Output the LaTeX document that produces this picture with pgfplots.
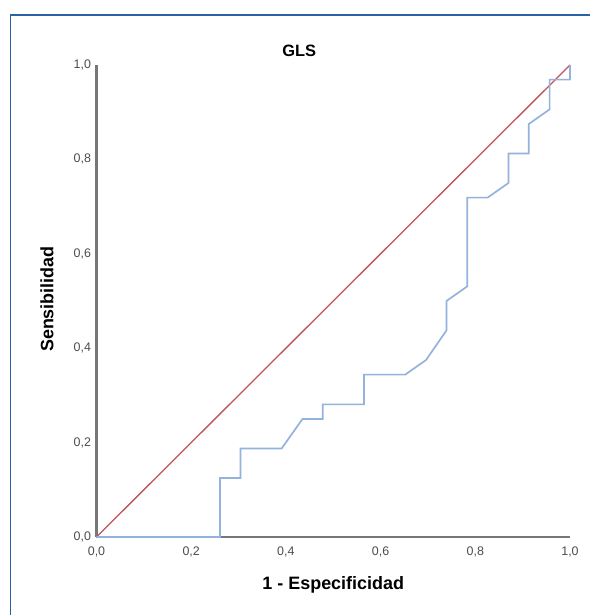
\documentclass[border=0pt]{standalone}
\usepackage{pgfplots}
\pgfplotsset{compat=1.18}
\usepackage{fontspec}
\setmainfont{Liberation Sans}
\definecolor{framecol}{HTML}{2A62A6}
\definecolor{roc}{HTML}{93B3DC}
\definecolor{diag}{HTML}{C4505C}
\definecolor{axcol}{HTML}{777777}
\definecolor{tickcol}{HTML}{4C4C4C}
\begin{document}
\begin{tikzpicture}
\begin{axis}[
  at={(96.5bp,78bp)}, anchor=south west,
  scale only axis, width=473.5bp, height=472bp,
  xmin=0, xmax=1, ymin=0, ymax=1,
  clip=false,
  axis lines=left,
  axis line style={axcol, line width=2bp, -},
  xtick={0,0.2,0.4,0.6,0.8,1},
  ytick={0,0.2,0.4,0.6,0.8,1},
  major tick length=0pt,
  /pgf/number format/.cd, fixed, fixed zerofill, precision=1, use comma, assume math mode=true,
  /pgfplots/.cd,
  ticklabel style={font=\fontsize{12.5}{12.5}\selectfont, text=tickcol},
  xticklabel style={yshift=-6bp},
  yticklabel style={xshift=-2bp},
  title={GLS},
  title style={at={(axis description cs:0.428,1.017)}, anchor=center, font=\bfseries\fontsize{16.5}{16.5}\selectfont},
  xlabel={1 - Especificidad},
  ylabel={Sensibilidad},
  xlabel style={at={(axis description cs:0.5,-0.102)}, anchor=center, font=\bfseries\fontsize{18}{18}\selectfont},
  ylabel style={at={(axis description cs:-0.1045,0.504)}, anchor=center, font=\bfseries\fontsize{18}{18}\selectfont},
]
\addplot[diag, line width=1.3bp] coordinates {(0,0) (1,1)};
\addplot[roc, line width=1.7bp] coordinates {
(0,0) (0.261,0) (0.261,0.125) (0.304,0.125) (0.304,0.1875) (0.391,0.1875)
(0.435,0.25) (0.478,0.25) (0.478,0.281) (0.565,0.281) (0.565,0.344)
(0.652,0.344) (0.696,0.375) (0.739,0.4375) (0.739,0.5) (0.783,0.531)
(0.783,0.719) (0.826,0.719) (0.870,0.75) (0.870,0.8125) (0.913,0.8125)
(0.913,0.875) (0.957,0.906) (0.957,0.969) (1,0.969) (1,1)
};
\end{axis}
\draw[framecol, line width=1.5bp] (10.5bp,0bp) -- (10.5bp,600bp) -- (590bp,600bp);
\pgfresetboundingbox
\useasboundingbox (0bp,0bp) rectangle (590bp,615bp);
\end{tikzpicture}
\end{document}
